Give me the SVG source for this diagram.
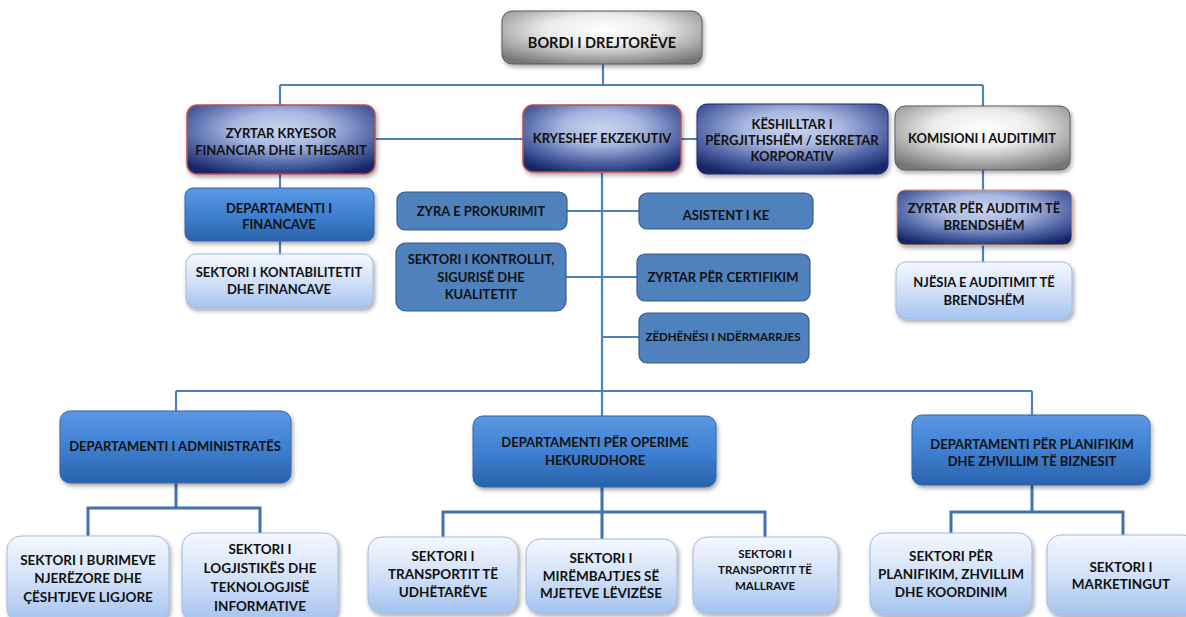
<svg xmlns="http://www.w3.org/2000/svg" width="1186" height="617" viewBox="0 0 1186 617">
<defs>
<radialGradient id="gNavy" cx="50%" cy="35%" r="72%">
<stop offset="0" stop-color="#c9d4ee"/>
<stop offset="0.35" stop-color="#a9b8e0"/>
<stop offset="0.72" stop-color="#4d62a3"/>
<stop offset="1" stop-color="#172566"/>
</radialGradient>
<radialGradient id="gGray" cx="50%" cy="35%" r="72%">
<stop offset="0" stop-color="#ffffff"/>
<stop offset="0.4" stop-color="#ebebeb"/>
<stop offset="1" stop-color="#767676"/>
</radialGradient>
<linearGradient id="gBlue" x1="0" y1="0" x2="0" y2="1">
<stop offset="0" stop-color="#5a98e2"/>
<stop offset="0.5" stop-color="#3f80d2"/>
<stop offset="1" stop-color="#2a62ab"/>
</linearGradient>
<linearGradient id="gLight" x1="0" y1="0" x2="0" y2="1">
<stop offset="0" stop-color="#f5f8fe"/>
<stop offset="0.5" stop-color="#d2e1f8"/>
<stop offset="1" stop-color="#a5c3ef"/>
</linearGradient>
<filter id="sh" x="-10%" y="-10%" width="125%" height="135%">
<feDropShadow dx="1.5" dy="2.5" stdDeviation="2" flood-color="#000" flood-opacity="0.35"/>
</filter>
</defs>
<style>
text{font-family:Lato,"Liberation Sans",sans-serif;font-weight:bold;fill:#111;text-anchor:middle;font-size:13px}
.navy{fill:url(#gNavy);stroke:#1e2c66;stroke-width:1;filter:url(#sh)}
.red{stroke:#c0504d;stroke-width:1.5}
.gray{fill:url(#gGray);stroke:#5a5a5a;stroke-width:1;filter:url(#sh)}
.blue{fill:url(#gBlue);stroke:#3466a6;stroke-width:1;filter:url(#sh)}
.light{fill:url(#gLight);stroke:#9fbbe2;stroke-width:1;filter:url(#sh)}
.flat{fill:#4f81bd;stroke:#385d8a;stroke-width:1.2}
.c{fill:none;stroke:#4f81bd;stroke-width:2.2}
.c3{fill:none;stroke:#3f72ae;stroke-width:3}
.sm{font-size:11.5px}
.big{font-size:14.5px}
.b14{font-size:13.5px}
</style>
<g id="connectors">
<path class="c" d="M603,64 V85 M280,85 H983 M280,85 V105 M983,85 V106"/>
<path class="c" d="M375,139 H523 M681,139 H697"/>
<path class="c" d="M280,174 V188 M280,241 V254"/>
<path class="c" d="M602,172 V416"/>
<path class="c" d="M567,211 H639 M566,277 H637 M602,337 H639"/>
<path class="c" d="M983,170 V190 M983,245 V262"/>
<path class="c" d="M176,391 H1032 M176,391 V411 M1032,391 V415"/>
<path class="c3" d="M176,483 V508 M88,536 V508 H260 V533"/>
<path class="c3" d="M602,487 V512 M443,537 V512 H765 V537 M602,512 V539"/>
<path class="c3" d="M1032,485 V512 M951,533 V512 H1123 V535"/>
</g>
<g id="bordi"><rect class="gray" x="502" y="11" width="200" height="53" rx="10"/><text class="big" x="602" y="48">BORDI I DREJTORËVE</text></g>
<g id="zyrtar-kryesor"><rect class="navy red" x="187" y="105" width="188" height="69" rx="10"/><text x="281" y="138">ZYRTAR KRYESOR</text><text x="281" y="155">FINANCIAR  DHE I THESARIT</text></g>
<g id="kryeshef"><rect class="navy red" x="523" y="105" width="158" height="67" rx="10"/><text x="602" y="143">KRYESHEF EKZEKUTIV</text></g>
<g id="keshilltar"><rect class="navy" x="697" y="104" width="191" height="70" rx="10"/><text x="792" y="129">KËSHILLTAR I</text><text x="792" y="145">PËRGJITHSHËM / SEKRETAR</text><text x="792" y="161">KORPORATIV</text></g>
<g id="komisioni"><rect class="gray red" x="895" y="106" width="175" height="64" rx="10"/><text x="982" y="143">KOMISIONI I AUDITIMIT</text></g>
<g id="dep-financave"><rect class="blue" x="185" y="188" width="189" height="53" rx="8"/><text x="279" y="213">DEPARTAMENTI I</text><text x="279" y="229">FINANCAVE</text></g>
<g id="sektori-kontabilitetit"><rect class="light" x="186" y="254" width="187" height="54" rx="10"/><text x="279" y="277">SEKTORI I KONTABILITETIT</text><text x="279" y="294">DHE FINANCAVE</text></g>
<g id="zyra-prokurimit"><rect class="flat" x="397" y="192" width="170" height="38" rx="8"/><text x="481" y="216">ZYRA E PROKURIMIT</text></g>
<g id="sektori-kontrollit"><rect class="flat" x="396" y="243" width="170" height="68" rx="10"/><text x="481" y="264">SEKTORI I KONTROLLIT,</text><text x="481" y="282">SIGURISË DHE</text><text x="481" y="299">KUALITETIT</text></g>
<g id="asistent"><rect class="flat" x="639" y="193" width="174" height="36" rx="8"/><text x="726" y="220">ASISTENT I KE</text></g>
<g id="certifikim"><rect class="flat" x="637" y="254" width="173" height="47" rx="8"/><text x="723" y="282">ZYRTAR PËR CERTIFIKIM</text></g>
<g id="zedhenesi"><rect class="flat" x="639" y="313" width="170" height="50" rx="8"/><text class="sm" x="723" y="341">ZËDHËNËSI  I NDËRMARRJES</text></g>
<g id="zyrtar-auditim"><rect class="navy" style="stroke:#e39a6a" x="897" y="190" width="175" height="55" rx="8"/><text x="984" y="213">ZYRTAR PËR AUDITIM TË</text><text x="984" y="230">BRENDSHËM</text></g>
<g id="njesia"><rect class="light" x="896" y="262" width="176" height="57" rx="10"/><text x="984" y="287">NJËSIA E AUDITIMIT TË</text><text x="984" y="305">BRENDSHËM</text></g>
<g id="dep-administrates"><rect class="blue" x="60" y="411" width="231" height="72" rx="10"/><text x="175" y="451">DEPARTAMENTI I ADMINISTRATËS</text></g>
<g id="dep-operime"><rect class="blue" x="473" y="416" width="243" height="71" rx="10"/><text x="595" y="447">DEPARTAMENTI PËR OPERIME</text><text x="595" y="465">HEKURUDHORE</text></g>
<g id="dep-planifikim"><rect class="blue" x="912" y="415" width="238" height="70" rx="10"/><text x="1032" y="449">DEPARTAMENTI PËR PLANIFIKIM</text><text x="1032" y="466">DHE ZHVILLIM  TË BIZNESIT</text></g>
<g id="sektori-burimeve"><rect class="light" x="7" y="536" width="162" height="86" rx="14"/><text class="b14" x="88" y="565">SEKTORI I BURIMEVE</text><text class="b14" x="88" y="583">NJERËZORE DHE</text><text class="b14" x="88" y="602">ÇËSHTJEVE LIGJORE</text></g>
<g id="sektori-logjistikes"><rect class="light" x="182" y="533" width="156" height="89" rx="14"/><text class="b14" x="260" y="554">SEKTORI I</text><text class="b14" x="260" y="573">LOGJISTIKËS DHE</text><text class="b14" x="260" y="592">TEKNOLOGJISË</text><text class="b14" x="260" y="611">INFORMATIVE</text></g>
<g id="sektori-udhetareve"><rect class="light" x="368" y="537" width="150" height="76" rx="14"/><text class="b14" x="443" y="561">SEKTORI I</text><text class="b14" x="443" y="579">TRANSPORTIT TË</text><text class="b14" x="443" y="597">UDHËTARËVE</text></g>
<g id="sektori-mirembajtjes"><rect class="light" x="526" y="539" width="151" height="74" rx="14"/><text class="b14" x="601" y="563">SEKTORI I</text><text class="b14" x="601" y="581">MIRËMBAJTJES SË</text><text class="b14" x="601" y="598">MJETEVE LËVIZËSE</text></g>
<g id="sektori-mallrave"><rect class="light" x="693" y="537" width="145" height="76" rx="14"/><text class="sm" x="765" y="558">SEKTORI  I</text><text class="sm" x="765" y="574">TRANSPORTIT  TË</text><text class="sm" x="765" y="590">MALLRAVE</text></g>
<g id="sektori-planifikim"><rect class="light" x="870" y="533" width="162" height="82" rx="14"/><text class="b14" x="951" y="561">SEKTORI PËR</text><text class="b14" x="951" y="579">PLANIFIKIM, ZHVILLIM</text><text class="b14" x="951" y="597">DHE KOORDINIM</text></g>
<g id="sektori-marketingut"><rect class="light" x="1047" y="535" width="150" height="80" rx="14"/><text class="b14" x="1121" y="572">SEKTORI I</text><text class="b14" x="1121" y="589">MARKETINGUT</text></g>
</svg>
